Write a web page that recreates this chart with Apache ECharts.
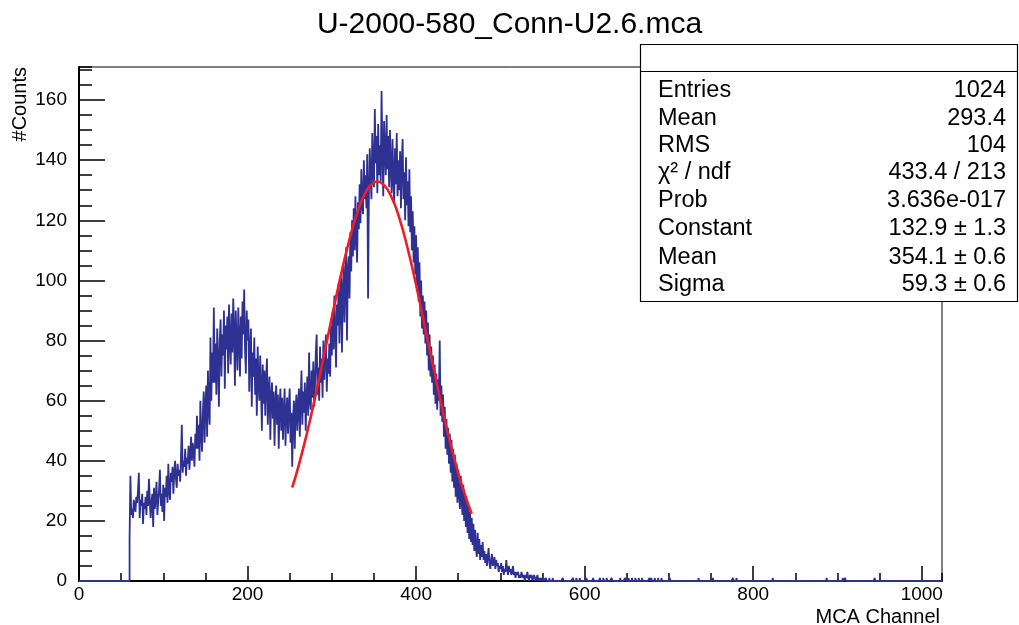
<!DOCTYPE html>
<html>
<head>
<meta charset="utf-8">
<script src="https://cdn.jsdelivr.net/npm/echarts@6/dist/echarts.min.js"></script>
<style>
html,body{margin:0;padding:0;background:#fff;}
#c{width:1019px;height:625px;}
</style>
</head>
<body>
<div id="c"></div>
<script>
// ---- data ----
const titleText = "U-2000-580_Conn-U2.6.mca";
const nBins = 1024;
const firstChannel = 60;
// counts per channel, channels 60..559
const counts = [
  14,35,22,24,21,27,25,23,28,26,30,36,21,27,25,29,19,26,24,28,
  22,30,25,34,27,21,26,29,18,31,24,28,33,22,27,30,37,25,29,23,
  32,20,31,28,35,26,39,30,27,36,33,38,29,36,40,34,31,39,35,37,
  33,41,52,36,40,38,44,35,41,39,45,37,42,48,40,46,43,38,49,44,
  55,44,52,40,60,49,43,56,63,46,58,65,48,70,57,52,81,60,76,66,
  91,66,79,62,84,73,58,80,87,68,82,75,90,64,85,77,88,69,92,80,
  72,89,76,94,83,65,90,79,70,91,81,68,88,74,93,82,97,77,69,90,
  80,87,63,77,84,58,76,68,81,62,74,55,78,66,60,75,64,50,72,59,
  70,55,67,74,52,63,68,47,61,66,54,63,45,59,65,52,62,44,58,64,
  50,61,47,57,64,45,56,61,49,58,64,46,56,38,54,60,44,57,62,50,
  58,64,48,60,70,52,63,56,66,50,61,68,55,76,60,57,70,61,73,58,
  65,76,82,62,71,60,78,66,74,61,80,67,75,82,63,74,69,79,68,85,
  75,90,77,95,83,71,92,85,99,79,94,101,76,96,105,86,100,111,80,103,
  108,94,116,103,120,108,124,110,128,114,106,126,117,132,119,137,125,122,140,127,
  135,124,142,94,130,144,134,127,149,136,131,157,139,148,129,152,135,145,133,163,
  143,128,153,142,135,155,137,148,131,150,138,129,147,134,126,144,132,149,128,140,
  130,143,124,139,147,127,136,120,141,125,133,118,137,116,128,110,123,106,118,102,
  115,98,111,93,106,88,100,84,95,82,93,79,90,75,86,70,82,68,78,66,
  75,62,72,59,69,57,67,60,80,55,65,53,62,48,58,44,54,42,51,39,
  49,36,47,33,44,31,42,28,39,26,37,29,24,35,27,22,32,20,29,18,
  27,16,25,14,23,13,21,12,19,10,17,11,8,16,9,14,7,12,8,13,
  7,10,6,9,5,8,11,6,4,7,9,5,6,8,4,7,5,6,3,5,
  4,6,3,5,2,4,3,7,4,2,5,3,4,2,3,5,2,3,1,3,
  2,3,1,2,1,3,2,1,2,0,2,1,3,1,0,2,1,2,0,1,
  2,1,0,1,2,0,1,0,1,1,0,1,0,0,1,0,0,0,1,0
];
// isolated single-count channels in the tail
const tailChannels = [562,574,586,590,594,602,610,618,622,626,632,642,648,652,656,660,664,668,677,679,683,687,691,701,735,752,776,780,823,887,906,909,944];
const tailCounts   = [1,1,1,1,1,1,1,1,1,1,1,1,1,1,1,1,1,1,1,1,1,1,1,1,1,1,1,1,1,1,1,1,1];
// gaussian fit curve (red), read at channel positions
const fitChannels = [253,260,270,280,290,300,310,320,330,340,350,354,360,370,380,390,400,410,420,430,440,450,460,466];
const fitValues   = [31.1,37.7,48.6,60.9,74.1,87.7,100.8,112.6,122.4,129.2,132.6,132.9,132.2,128.2,120.8,110.6,98.5,85.2,71.7,58.6,46.5,35.9,27.0,22.4];
// stats box
const statLabels = ["Entries","Mean","RMS","\u03C7\u00B2 / ndf","Prob","Constant","Mean","Sigma"];
const statValues = ["1024","293.4","104","433.4 / 213","3.636e-017","132.9 \u00B1 1.3","354.1 \u00B1 0.6","59.3 \u00B1 0.6"];
const xMajor = 200, xMinor = 50, yMajor = 20, yMinor = 5;
const xMax = 1024, yMax = 171;

// ---- build histogram ----
const bins = new Array(nBins).fill(0);
counts.forEach((v,i)=>{ bins[firstChannel+i] = v; });
tailChannels.forEach((c,i)=>{ bins[c] = tailCounts[i]; });
const histData = bins.map((v,i)=>[i,v]);
histData.push([nBins, bins[nBins-1]]);
const fitData = fitChannels.map((c,i)=>[c, fitValues[i]]);

const FONT = "'Liberation Sans', Arial, Helvetica, sans-serif";
const chart = echarts.init(document.getElementById('c'), null, {renderer:'canvas'});

const grid = {left:79, right:77, top:67, bottom:44};
const statRowY = [91,119,146,173,201,229,258,285];
const graphics = [
  {type:'text', x:20, y:67, rotation:Math.PI/2, z:50,
   style:{text:'#Counts', font:'20px ' + FONT, fill:'#000', align:'right', verticalAlign:'middle'}},
  {type:'text', x:940, y:617, z:50,
   style:{text:'MCA Channel', font:'20px ' + FONT, fill:'#000', align:'right', verticalAlign:'middle'}},
  {type:'rect', shape:{x:640.5, y:44.5, width:377, height:257}, z:100,
   style:{fill:'#fff', stroke:'#000', lineWidth:1.2}},
  {type:'line', shape:{x1:640.5, y1:71.5, x2:1017.5, y2:71.5}, z:101,
   style:{stroke:'#000', lineWidth:1.2}}
];
statLabels.forEach((t,i)=>{
  graphics.push({type:'text', x:658, y:statRowY[i], z:102,
    style:{text:t, font:'23.5px ' + FONT, fill:'#000', align:'left', verticalAlign:'middle'}});
  graphics.push({type:'text', x:1006, y:statRowY[i], z:102,
    style:{text:statValues[i], font:'23.5px ' + FONT, fill:'#000', align:'right', verticalAlign:'middle'}});
});
const plain = v => String(v);

chart.setOption({
  animation:false,
  backgroundColor:'#fff',
  title:{text:titleText, left:'center', top:5,
    textStyle:{fontFamily:FONT, fontSize:30, fontWeight:'normal', color:'#000'}},
  grid:Object.assign({show:true, borderColor:'#000', borderWidth:1, backgroundColor:'#fff'}, grid),
  xAxis:[
    {type:'value', min:0, max:xMax, interval:xMajor, position:'bottom',
     axisLine:{show:true, onZero:false, lineStyle:{color:'#000', width:2}},
     axisTick:{show:true, inside:true, length:15, lineStyle:{color:'#000', width:1.5}},
     axisLabel:{show:true, fontFamily:FONT, fontSize:19, color:'#000', margin:4, showMaxLabel:false, formatter:plain},
     splitLine:{show:false}},
    {type:'value', min:0, max:xMax, interval:xMinor, position:'bottom',
     axisLine:{show:false, onZero:false},
     axisTick:{show:true, inside:true, length:8, lineStyle:{color:'#000', width:1.5}},
     axisLabel:{show:false}, splitLine:{show:false}}
  ],
  yAxis:[
    {type:'value', min:0, max:yMax, interval:yMajor, position:'left',
     axisLine:{show:true, onZero:false, lineStyle:{color:'#000', width:2}},
     axisTick:{show:true, inside:true, length:26, lineStyle:{color:'#000', width:1.5}},
     axisLabel:{show:true, fontFamily:FONT, fontSize:19, color:'#000', margin:12, showMaxLabel:false, formatter:plain},
     splitLine:{show:false}},
    {type:'value', min:0, max:yMax, interval:yMinor, position:'left',
     axisLine:{show:false, onZero:false},
     axisTick:{show:true, inside:true, length:13, lineStyle:{color:'#000', width:1.5}},
     axisLabel:{show:false}, splitLine:{show:false}}
  ],
  series:[
    {type:'line', xAxisIndex:0, yAxisIndex:0, step:'end', data:histData,
     showSymbol:false, symbol:'none', lineStyle:{color:'#2e3192', width:1.8}, z:3},
    {type:'line', xAxisIndex:0, yAxisIndex:0, smooth:true, data:fitData,
     showSymbol:false, symbol:'none', lineStyle:{color:'#ee1c24', width:2.6}, z:4}
  ],
  graphic:graphics
});
</script>
</body>
</html>
